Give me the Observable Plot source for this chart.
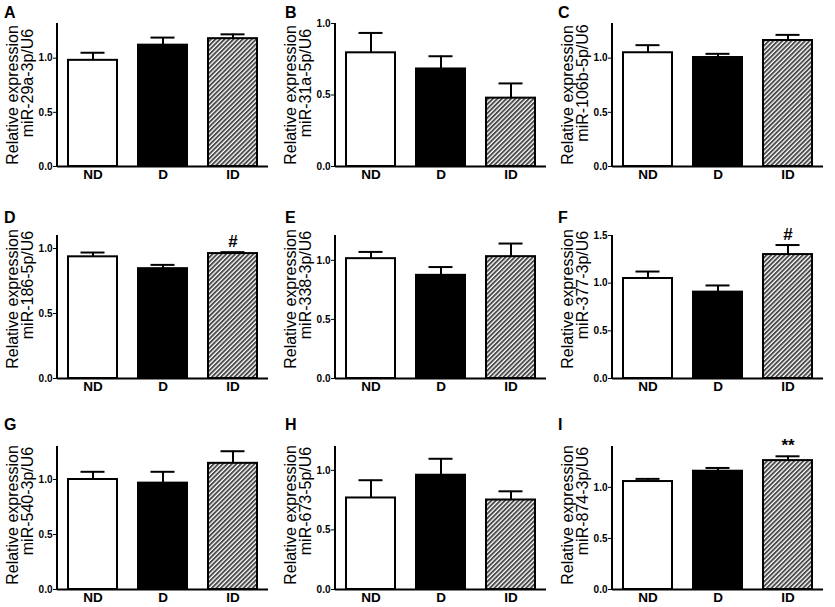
<!DOCTYPE html>
<html><head><meta charset="utf-8">
<script src="https://cdn.jsdelivr.net/npm/d3@7"></script>
<script src="https://cdn.jsdelivr.net/npm/@observablehq/plot@0.6"></script>
<style>
body{margin:0;background:#fff;}
#fig{position:relative;width:835px;height:607px;font-family:"Liberation Sans",Arial,sans-serif;overflow:hidden;}
.panel{position:absolute;}
.letter{position:absolute;font-weight:bold;font-size:16px;line-height:16px;color:#000;}
</style></head><body>
<svg width="0" height="0" style="position:absolute"><defs>
<pattern id="hatch" patternUnits="userSpaceOnUse" width="3.2" height="3.2" patternTransform="rotate(45)">
<rect width="3.2" height="3.2" fill="#ffffff"/><rect width="1.9" height="3.2" fill="#4a4a4a"/>
</pattern></defs></svg>
<div id="fig"></div>
<script>
const groups = ["ND", "D", "ID"];
const panelLetters = ["A", "B", "C", "D", "E", "F", "G", "H", "I"];
const mirnas = ["miR-29a-3p/U6", "miR-31a-5p/U6", "miR-106b-5p/U6", "miR-186-5p/U6", "miR-338-3p/U6", "miR-377-3p/U6", "miR-540-3p/U6", "miR-673-5p/U6", "miR-874-3p/U6"];
const ndMean = [0.98, 0.795, 1.05, 0.936, 1.014, 1.049, 1.0, 0.768, 1.057];
const dMean  = [1.12, 0.682, 1.006, 0.845, 0.873, 0.906, 0.967, 0.959, 1.158];
const idMean = [1.18, 0.478, 1.163, 0.961, 1.031, 1.30, 1.147, 0.751, 1.262];
const ndSem  = [0.07, 0.139, 0.07, 0.033, 0.057, 0.073, 0.07, 0.149, 0.026];
const dSem   = [0.07, 0.089, 0.034, 0.029, 0.07, 0.07, 0.103, 0.138, 0.032];
const idSem  = [0.04, 0.103, 0.052, 0.011, 0.111, 0.10, 0.11, 0.073, 0.042];
const idSig  = ["", "", "", "#", "", "#", "", "", "**"];
const yMax   = [1.32, 1.0, 1.32, 1.1, 1.21, 1.5, 1.3, 1.2, 1.4];
const tickValues = [0, 0.5, 1.0, 1.5];
const yLabelTop = "Relative expression";

const colX = [0, 278, 555];
const colW = [278, 278, 280];
const rowTop = [0, 212, 423];
const letterX = [4, 285, 558];
const letterY = [5, 210, 417];
const lab1dy = [0, -8, -3];
const lab2dy = [-12, -22, -17];

const fig = document.getElementById("fig");
const means = [ndMean, dMean, idMean];
const sems = [ndSem, dSem, idSem];
const fills = ["white", "black", "url(#hatch)"];

for (let i = 0; i < 9; i++) {
  const r = Math.floor(i / 3), c = i % 3;
  const rows = groups.map((g, j) => ({group: g, mean: means[j][i], sem: sems[j][i], sig: j === 2 ? idSig[i] : ""}));
  const top = yMax[i];
  const yAxisLine = (index, scales, values, dims) => {
    const l = d3.create("svg:line")
      .attr("x1", dims.marginLeft).attr("x2", dims.marginLeft)
      .attr("y1", scales.y(0) + 1).attr("y2", scales.y(top))
      .attr("stroke", "black").attr("stroke-width", 2);
    return l.node();
  };
  const marks = [];
  groups.forEach((g, j) => {
    marks.push(Plot.barY(rows, {filter: d => d.group === g, x: "group", y: "mean", fill: fills[j], stroke: "black", strokeWidth: 2}));
  });
  marks.push(
    Plot.ruleX(rows, {x: "group", y1: "mean", y2: d => d.mean + d.sem, stroke: "black", strokeWidth: 2}),
    Plot.tickY(rows, {x: "group", y: d => d.mean + d.sem, stroke: "black", strokeWidth: 2, insetLeft: 12.5, insetRight: 12.5}),
    Plot.text(rows.filter(d => d.sig), {x: "group", y: d => d.mean + d.sem, text: "sig", fontSize: 17, fontWeight: "bold", fill: "black", lineAnchor: "bottom", dy: -5}),
    Plot.ruleY([0], {stroke: "black", strokeWidth: 2}),
    yAxisLine,
    Plot.text(groups, {x: d => d, text: d => d, frameAnchor: "bottom", dy: 12, fontSize: 13.5, fontWeight: "bold", fill: "black"}),
    Plot.text([yLabelTop], {text: d => d, frameAnchor: "left", textAnchor: "middle", rotate: -90, dx: -45, dy: lab1dy[r], fontSize: 16, fontWeight: "normal", fill: "black"}),
    Plot.text([mirnas[i]], {text: d => d, frameAnchor: "left", textAnchor: "middle", rotate: -90, dx: -30, dy: lab2dy[r], fontSize: 16, fontWeight: "normal", fill: "black"})
  );
  const chart = Plot.plot({
    width: colW[c],
    height: 196,
    marginLeft: 57,
    marginRight: colW[c] - 268,
    marginTop: 23,
    marginBottom: 30,
    style: {fontFamily: "'Liberation Sans', Arial, sans-serif", fontSize: "10px", fontWeight: "bold", color: "black", background: "transparent", overflow: "visible"},
    x: {domain: groups, axis: null, paddingInner: 0.3, paddingOuter: 0.15},
    y: {domain: [0, top], ticks: tickValues.filter(t => t <= top + 1e-9), tickFormat: d3.format(".1f"), tickSize: 4, tickPadding: 1, label: null},
    marks
  });
  const div = document.createElement("div");
  div.className = "panel";
  div.style.left = colX[c] + "px";
  div.style.top = rowTop[r] + "px";
  div.appendChild(chart);
  fig.appendChild(div);
  const lt = document.createElement("div");
  lt.className = "letter";
  lt.textContent = panelLetters[i];
  lt.style.left = letterX[c] + "px";
  lt.style.top = letterY[r] + "px";
  fig.appendChild(lt);
}
</script>
</body></html>
